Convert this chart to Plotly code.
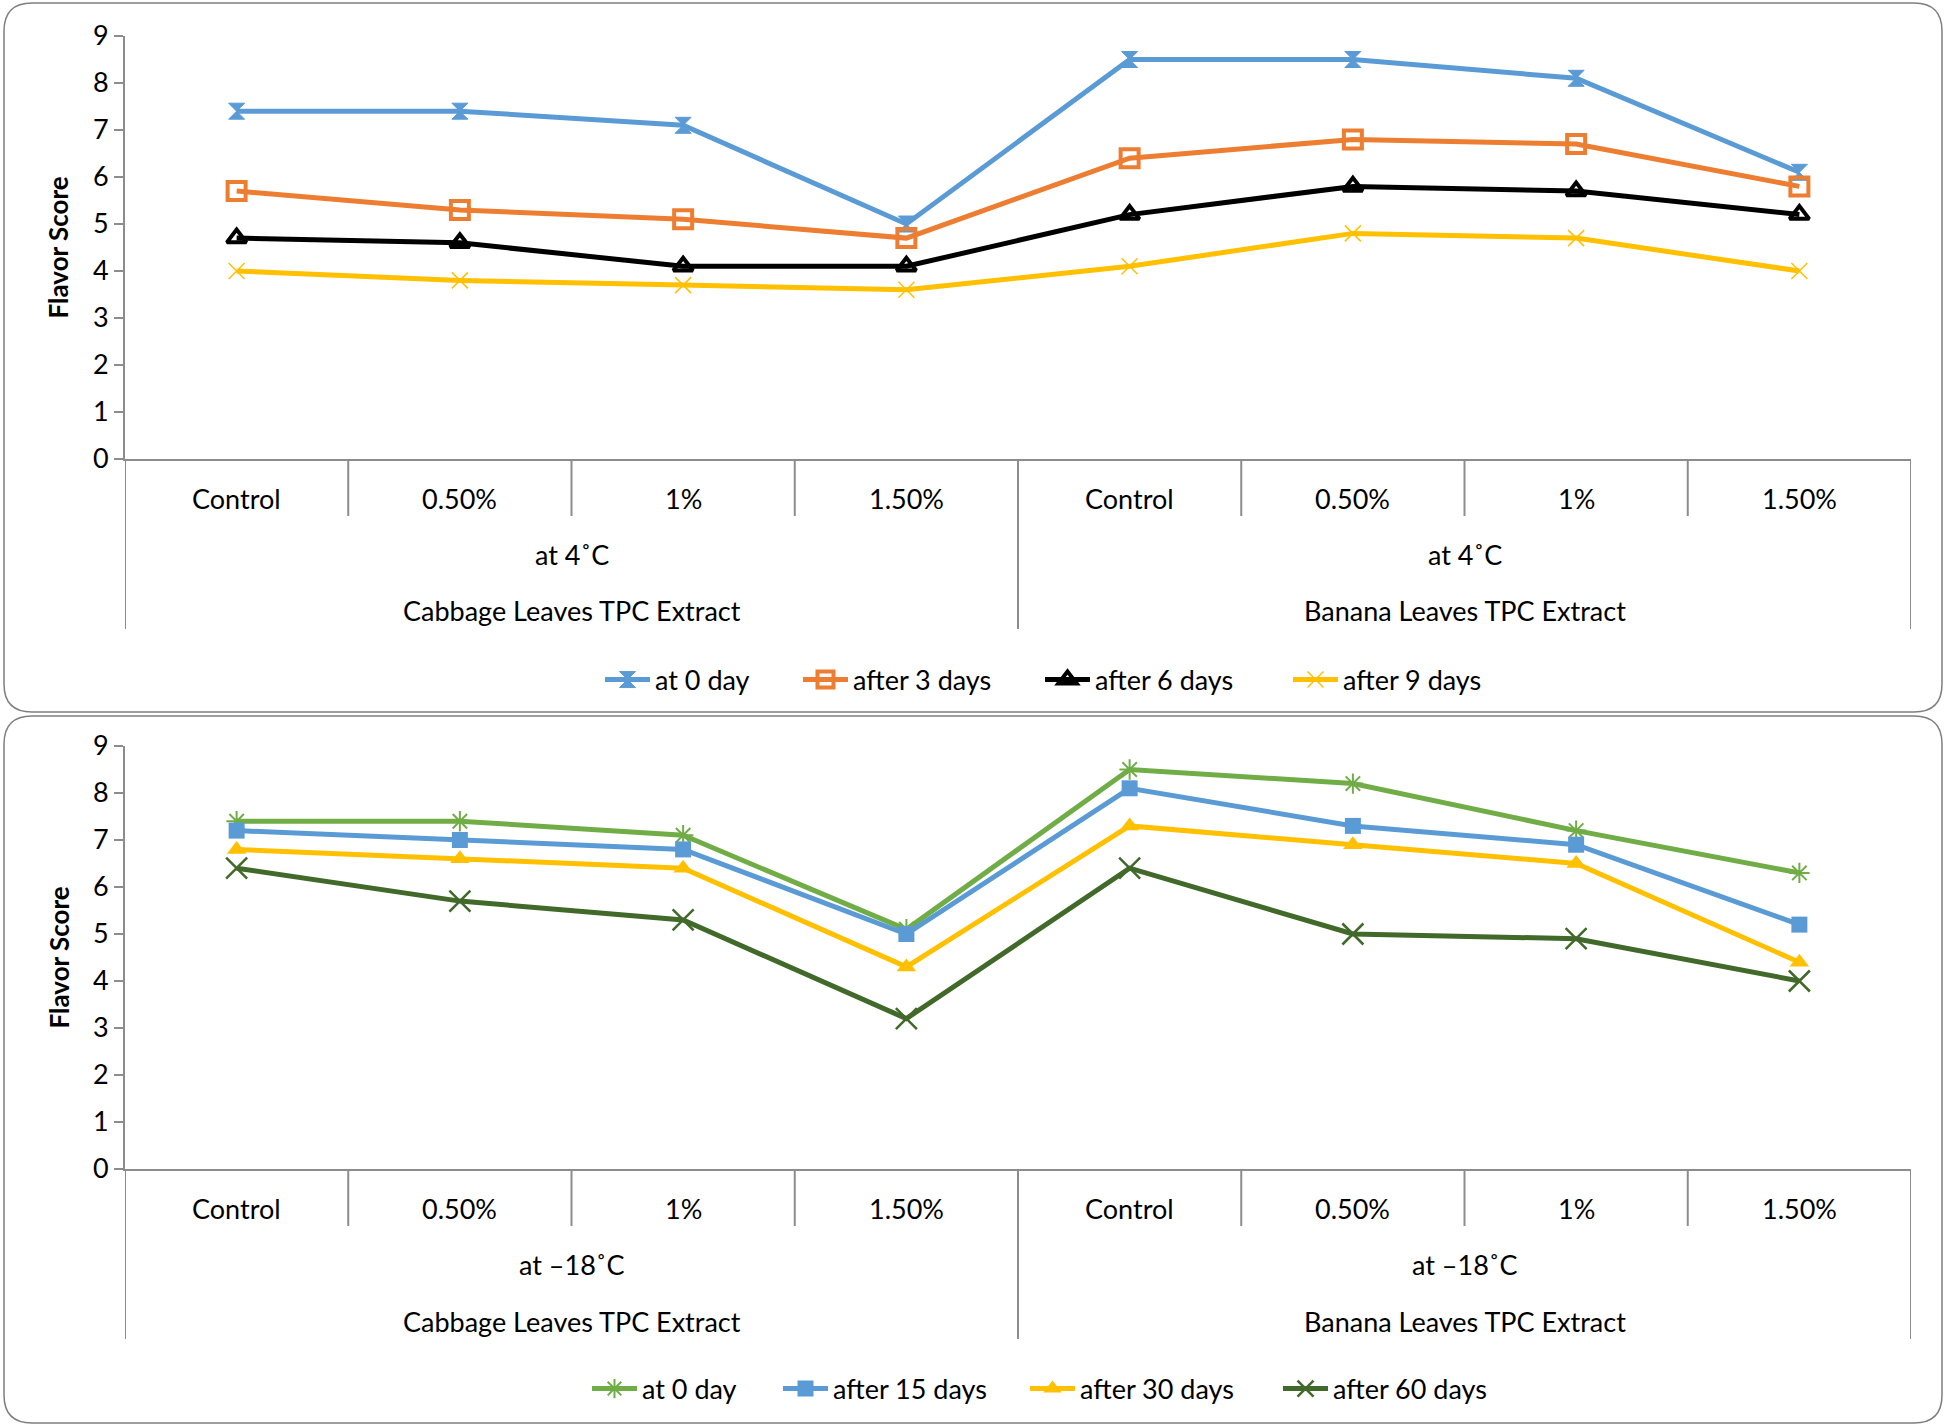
import plotly.graph_objects as go

# ---------------- data ----------------
categories = ["Control", "0.50%", "1%", "1.50%", "Control", "0.50%", "1%", "1.50%"]
groups = ["Cabbage Leaves TPC Extract", "Banana Leaves TPC Extract"]
temp_top = "at 4˚C"
temp_bottom = "at –18˚C"

top_names = ["at 0 day", "after 3 days", "after 6 days", "after 9 days"]
top_day0 = [7.4, 7.4, 7.1, 5.0, 8.5, 8.5, 8.1, 6.1]
top_day3 = [5.7, 5.3, 5.1, 4.7, 6.4, 6.8, 6.7, 5.8]
top_day6 = [4.7, 4.6, 4.1, 4.1, 5.2, 5.8, 5.7, 5.2]
top_day9 = [4.0, 3.8, 3.7, 3.6, 4.1, 4.8, 4.7, 4.0]

bot_names = ["at 0 day", "after 15 days", "after 30 days", "after 60 days"]
bot_day0 = [7.4, 7.4, 7.1, 5.1, 8.5, 8.2, 7.2, 6.3]
bot_day15 = [7.2, 7.0, 6.8, 5.0, 8.1, 7.3, 6.9, 5.2]
bot_day30 = [6.8, 6.6, 6.4, 4.3, 7.3, 6.9, 6.5, 4.4]
bot_day60 = [6.4, 5.7, 5.3, 3.2, 6.4, 5.0, 4.9, 4.0]

y_ticks = list(range(0, 10))

# ---------------- layout helpers ----------------
W, H = 1946, 1426
FONT = "Lato, Carlito, Calibri, sans-serif"
GRAY = "#8c8c8c"
FS = 27

def py(px):  # pixel y -> paper y
    return 1 - px / H

def pxx(px):
    return px / W

x_pos = [i + 0.5 for i in range(len(categories))]

# legend entry left positions (pixels) for each series
top_leg_x = [600, 798, 1040, 1288]
bot_leg_x = [587, 778, 1025, 1278]

fig = go.Figure()
legend_layouts = {}

legend_common = dict(orientation="h", xanchor="left", yanchor="middle",
                     font=dict(family=FONT, size=FS, color="black"),
                     bgcolor="rgba(0,0,0,0)", itemwidth=45, tracegroupgap=0)

top_styles = [
    dict(color="#5B9BD5", symbol="hourglass", size=16, line=dict(color="#5B9BD5", width=1)),
    dict(color="white", symbol="square-open", size=18, line=dict(color="#ED7D31", width=4)),
    dict(color="white", symbol="triangle-up-open", size=17, line=dict(color="black", width=4)),
    dict(color="#FFC000", symbol="x-thin", size=16, line=dict(color="#FFC000", width=1.5)),
]
top_line_colors = ["#5B9BD5", "#ED7D31", "black", "#FFC000"]
top_series = [top_day0, top_day3, top_day6, top_day9]

n = 0
for name, ys, st, lc, lx in zip(top_names, top_series, top_styles, top_line_colors, top_leg_x):
    n += 1
    lg = "legend" if n == 1 else f"legend{n}"
    mk = dict(st)
    if mk["symbol"].endswith("-open"):
        mk["color"] = lc
    fig.add_trace(go.Scatter(
        x=x_pos, y=ys, name=name, mode="lines+markers",
        line=dict(color=lc, width=5), marker=mk,
        xaxis="x", yaxis="y", legend=lg))
    legend_layouts[lg] = dict(legend_common, x=pxx(lx), y=py(680))

bot_styles = [
    dict(color="#70AD47", symbol="asterisk-open", size=17, line=dict(color="#70AD47", width=2)),
    dict(color="#5B9BD5", symbol="square", size=16, line=dict(width=0)),
    dict(color="#FFC000", symbol="triangle-up", size=17, line=dict(width=0)),
    dict(color="#41692A", symbol="x-thin", size=21, line=dict(color="#41692A", width=2.5)),
]
bot_line_colors = ["#70AD47", "#5B9BD5", "#FFC000", "#41692A"]
bot_series = [bot_day0, bot_day15, bot_day30, bot_day60]

for name, ys, st, lc, lx in zip(bot_names, bot_series, bot_styles, bot_line_colors, bot_leg_x):
    n += 1
    lg = f"legend{n}"
    fig.add_trace(go.Scatter(
        x=x_pos, y=ys, name=name, mode="lines+markers",
        line=dict(color=lc, width=5), marker=st,
        xaxis="x2", yaxis="y2", legend=lg))
    legend_layouts[lg] = dict(legend_common, x=pxx(lx), y=py(1389))

# plot geometry (pixels)
X_LEFT, X_RIGHT = 125, 1911
panels = [
    dict(top=36, zero=459, xa="x", ya="y", temp=temp_top, box=(4, 3, 1942, 712)),
    dict(top=746, zero=1169, xa="x2", ya="y2", temp=temp_bottom, box=(4, 716, 1942, 1423)),
]

axis_common_x = dict(range=[0, 8], showticklabels=False, ticks="", showgrid=False,
                     zeroline=False, showline=True, linecolor=GRAY, linewidth=2,
                     domain=[pxx(X_LEFT), pxx(X_RIGHT)], fixedrange=True, automargin=False)
axis_common_y = dict(range=[0, 9], tickvals=y_ticks, ticks="outside", ticklen=9,
                     tickcolor=GRAY, tickwidth=2, showgrid=False, zeroline=False,
                     showline=True, linecolor=GRAY, linewidth=2, automargin=False,
                     tickfont=dict(family=FONT, size=FS, color="black"), fixedrange=True)

fig.update_layout(
    xaxis=dict(axis_common_x, anchor="y"),
    yaxis=dict(axis_common_y, anchor="x", domain=[py(459), py(36)]),
    xaxis2=dict(axis_common_x, anchor="y2"),
    yaxis2=dict(axis_common_y, anchor="x2", domain=[py(1169), py(746)]),
)

shapes = []
annotations = []
for p in panels:
    xa = p["xa"]
    z = p["zero"]
    for k in range(0, 9):
        bottom = z + 170 if k % 4 == 0 else z + 57
        shapes.append(dict(type="line", xref=xa, yref="paper", x0=k, x1=k,
                           y0=py(z), y1=py(bottom), line=dict(color=GRAY, width=2)))
    for i, c in enumerate(categories):
        annotations.append(dict(text=c, xref=xa, yref="paper", x=x_pos[i], y=py(z + 39),
                                showarrow=False, xanchor="center", yanchor="middle",
                                font=dict(family=FONT, size=FS, color="black")))
    for g, gname in enumerate(groups):
        annotations.append(dict(text=p["temp"], xref=xa, yref="paper", x=4 * g + 2, y=py(z + 95),
                                showarrow=False, xanchor="center", yanchor="middle",
                                font=dict(family=FONT, size=FS, color="black")))
        annotations.append(dict(text=gname, xref=xa, yref="paper", x=4 * g + 2, y=py(z + 152),
                                showarrow=False, xanchor="center", yanchor="middle",
                                font=dict(family=FONT, size=FS, color="black")))
    annotations.append(dict(text="<b>Flavor Score</b>", xref="paper", yref="paper",
                            x=pxx(58), y=py((p["top"] + z) / 2), textangle=-90,
                            showarrow=False, xanchor="center", yanchor="middle",
                            font=dict(family=FONT, size=26, color="black")))
    x0, y0, x1, y1 = p["box"]
    r = 28
    rx, ry = r / W, r / H
    X0, X1 = pxx(x0), pxx(x1)
    Y0, Y1 = py(y0), py(y1)
    path = (f"M {X0 + rx},{Y0} L {X1 - rx},{Y0} Q {X1},{Y0} {X1},{Y0 - ry} "
            f"L {X1},{Y1 + ry} Q {X1},{Y1} {X1 - rx},{Y1} "
            f"L {X0 + rx},{Y1} Q {X0},{Y1} {X0},{Y1 + ry} "
            f"L {X0},{Y0 - ry} Q {X0},{Y0} {X0 + rx},{Y0} Z")
    shapes.append(dict(type="path", xref="paper", yref="paper", path=path,
                       line=dict(color="#7f7f7f", width=1.5), layer="below"))

fig.update_layout(
    width=W, height=H, autosize=False,
    margin=dict(l=0, r=0, t=0, b=0, pad=0, autoexpand=False),
    paper_bgcolor="white", plot_bgcolor="white",
    shapes=shapes, annotations=annotations,
    showlegend=True,
    font=dict(family=FONT, size=FS, color="black"),
    **legend_layouts,
)

post = ("document.documentElement.style.margin='0';document.body.style.margin='0';"
        "document.body.style.overflow='hidden';document.documentElement.style.overflow='hidden';"
        "var d=document.getElementById('{plot_id}');d.style.position='fixed';"
        "d.style.top='0px';d.style.left='0px';")
fig.write_html("out.html", post_script=post, config={"displayModeBar": False})
